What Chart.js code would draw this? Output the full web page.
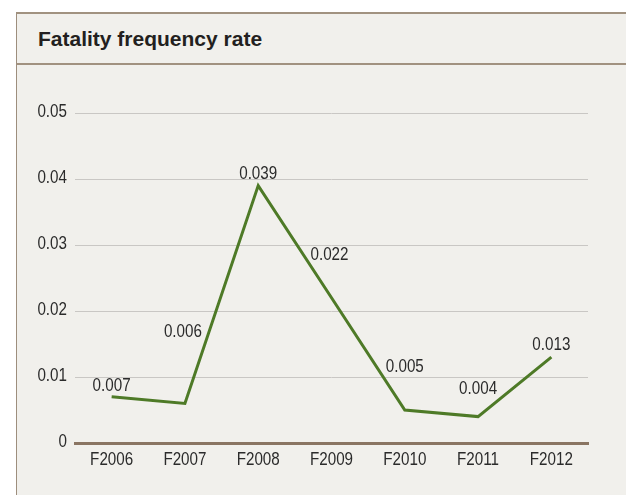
<!DOCTYPE html>
<html>
<head>
<meta charset="utf-8">
<script src="https://cdn.jsdelivr.net/npm/chart.js@4/dist/chart.umd.min.js"></script>
<style>
  html, body { margin: 0; padding: 0; background: #fff; width: 626px; height: 495px; overflow: hidden; }
  #panel {
    position: absolute; left: 16px; top: 12px; width: 700px; height: 500px;
    background: #f1f0ec; border-left: 1px solid #9d8e7d; border-top: 2px solid #a19280;
  }
  #header {
    height: 49px; border-bottom: 2px solid #a19280;
    font: bold 21px "Liberation Sans", Arial, sans-serif; color: #231f20;
    line-height: 50px; padding-left: 21px;
  }
  #chart { position: absolute; left: 17px; top: 66px; }
</style>
</head>
<body>
<div id="panel"><div id="header">Fatality frequency rate</div></div>
<canvas id="chart" width="609" height="429"></canvas>
<script>
const categories = ["F2006", "F2007", "F2008", "F2009", "F2010", "F2011", "F2012"]
const fatalityRate = [0.007, 0.006, 0.039, 0.022, 0.005, 0.004, 0.013]
const valueLabels = ["0.007", "0.006", "0.039", "0.022", "0.005", "0.004", "0.013"]

// Label nudges (px) relative to each point; the original places them by hand.
const labelOffsets = [[0, -11], [-2, -72], [0, -12], [-2, -43], [0, -43], [0, -28], [0, -12]]

const LINE_COLOR = "#4e7a27"
const TEXT_COLOR = "#2b2b2b"
const GRID_COLOR = "#c9c7c4"
const BASE_COLOR = "#8a7562"
const FONT = '19px "Liberation Sans", Arial, sans-serif'
// The source uses a narrow Arial; squeeze Liberation Sans horizontally instead.
const NARROW = 0.8

function narrowText(ctx, text, x, y, align) {
  ctx.save()
  ctx.translate(x, y)
  ctx.scale(NARROW, 1)
  ctx.font = FONT
  ctx.fillStyle = TEXT_COLOR
  ctx.textAlign = align
  ctx.textBaseline = "middle"
  ctx.fillText(text, 0, 0)
  ctx.restore()
}

// Axis labels and point values, drawn narrow at the scales' own positions.
const narrowLabelsPlugin = {
  id: "narrowLabels",
  afterDraw(chart) {
    const { ctx, scales, chartArea } = chart
    scales.y.ticks.forEach((t, i) => {
      const label = t.value === 0 ? "0" : t.value.toFixed(2)
      narrowText(ctx, label, chartArea.left - 8, scales.y.getPixelForTick(i) - 1, "right")
    })
    scales.x.ticks.forEach((t, i) => {
      narrowText(ctx, scales.x.getLabelForValue(t.value), scales.x.getPixelForTick(i), chartArea.bottom + 17, "center")
    })
    chart.getDatasetMeta(0).data.forEach((pt, i) => {
      const [dx, dy] = labelOffsets[i]
      narrowText(ctx, valueLabels[i], pt.x + dx, pt.y + dy, "center")
    })
  }
}

new Chart(document.getElementById("chart").getContext("2d"), {
  type: "line",
  plugins: [narrowLabelsPlugin],
  data: {
    labels: categories,
    datasets: [{
      data: fatalityRate,
      borderColor: LINE_COLOR,
      borderWidth: 3,
      pointRadius: 0,
      tension: 0,
      fill: false
    }]
  },
  options: {
    responsive: false,
    animation: false,
    devicePixelRatio: 1,
    layout: { padding: { top: 47, right: 38, left: 0, bottom: 0 } },
    plugins: { legend: { display: false }, tooltip: { enabled: false } },
    scales: {
      x: {
        offset: true,
        grid: { display: false, drawTicks: false },
        border: { display: true, color: BASE_COLOR, width: 3 },
        afterFit: (axis) => { axis.height = 52 },
        ticks: { display: false, maxRotation: 0 }
      },
      y: {
        min: 0,
        max: 0.05,
        grid: {
          drawTicks: false,
          lineWidth: 1,
          color: (c) => (c.tick && c.tick.value === 0 ? "rgba(0,0,0,0)" : GRID_COLOR)
        },
        border: { display: false },
        afterFit: (axis) => { axis.width = 58 },
        ticks: { display: false, stepSize: 0.01 }
      }
    }
  }
})
</script>
</body>
</html>
